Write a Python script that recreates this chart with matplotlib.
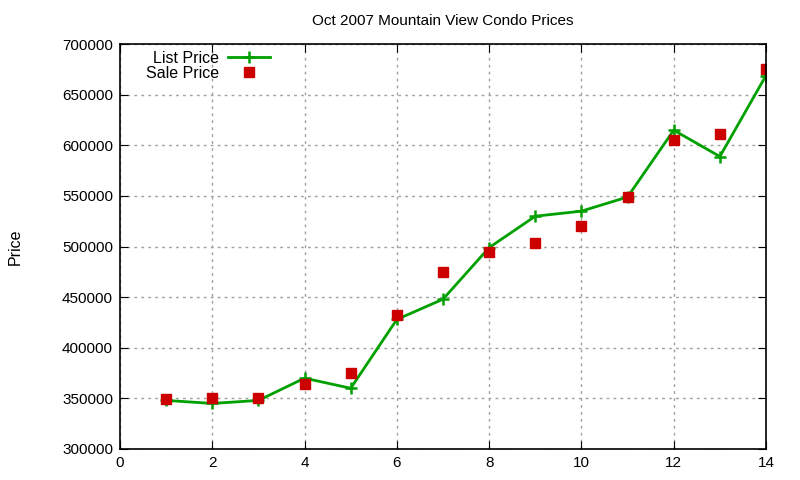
import matplotlib.pyplot as plt
import numpy as np

plt.rcParams['font.family'] = ['Liberation Sans', 'DejaVu Sans']

# data
months = [1, 2, 3, 4, 5, 6, 7, 8, 9, 10, 11, 12, 13, 14]
list_price = [348000, 345000, 348000, 370000, 360000, 428000, 448000,
              499000, 530000, 535000, 549000, 615000, 589000, 669000]
sale_price = [349000, 350000, 350000, 364000, 375000, 432000, 475000,
              495000, 504000, 520000, 549000, 605000, 611000, 675000]

fig = plt.figure(figsize=(8, 4.8), dpi=100)
ax = fig.add_axes([0.15, 0.0646, 0.8075, 0.8434])

ax.plot(months, list_price, color='#00a000', linewidth=2, marker='+',
        markersize=9, markeredgewidth=1.8, label='List Price')
ax.plot(months, sale_price, color='#cc0000', linestyle='none', marker='s',
        markersize=6.5, label='Sale Price')

ax.set_xlim(0, 14)
ax.set_ylim(300000, 700000)
ax.set_xticks(np.arange(0, 15, 2))
ax.set_yticks(np.arange(300000, 700001, 50000))
ax.tick_params(direction='in', top=True, right=True, length=6, labelsize=11, pad=5)
ax.grid(True, linestyle=(0, (2, 3)), color='#a0a0a0', linewidth=1)
for s in ax.spines.values():
    s.set_linewidth(1.2)

ax.set_ylabel('Price', fontsize=11.5, labelpad=28)
ax.set_title('Oct 2007 Mountain View Condo Prices', fontsize=11, pad=14)

ax.legend(loc='upper left', frameon=False, markerfirst=False, fontsize=11.5,
          handlelength=2.6, handletextpad=0.6, borderaxespad=0.0,
          labelspacing=0.0, bbox_to_anchor=(0.03, 1.0))

fig.savefig('out.png', dpi=100)
